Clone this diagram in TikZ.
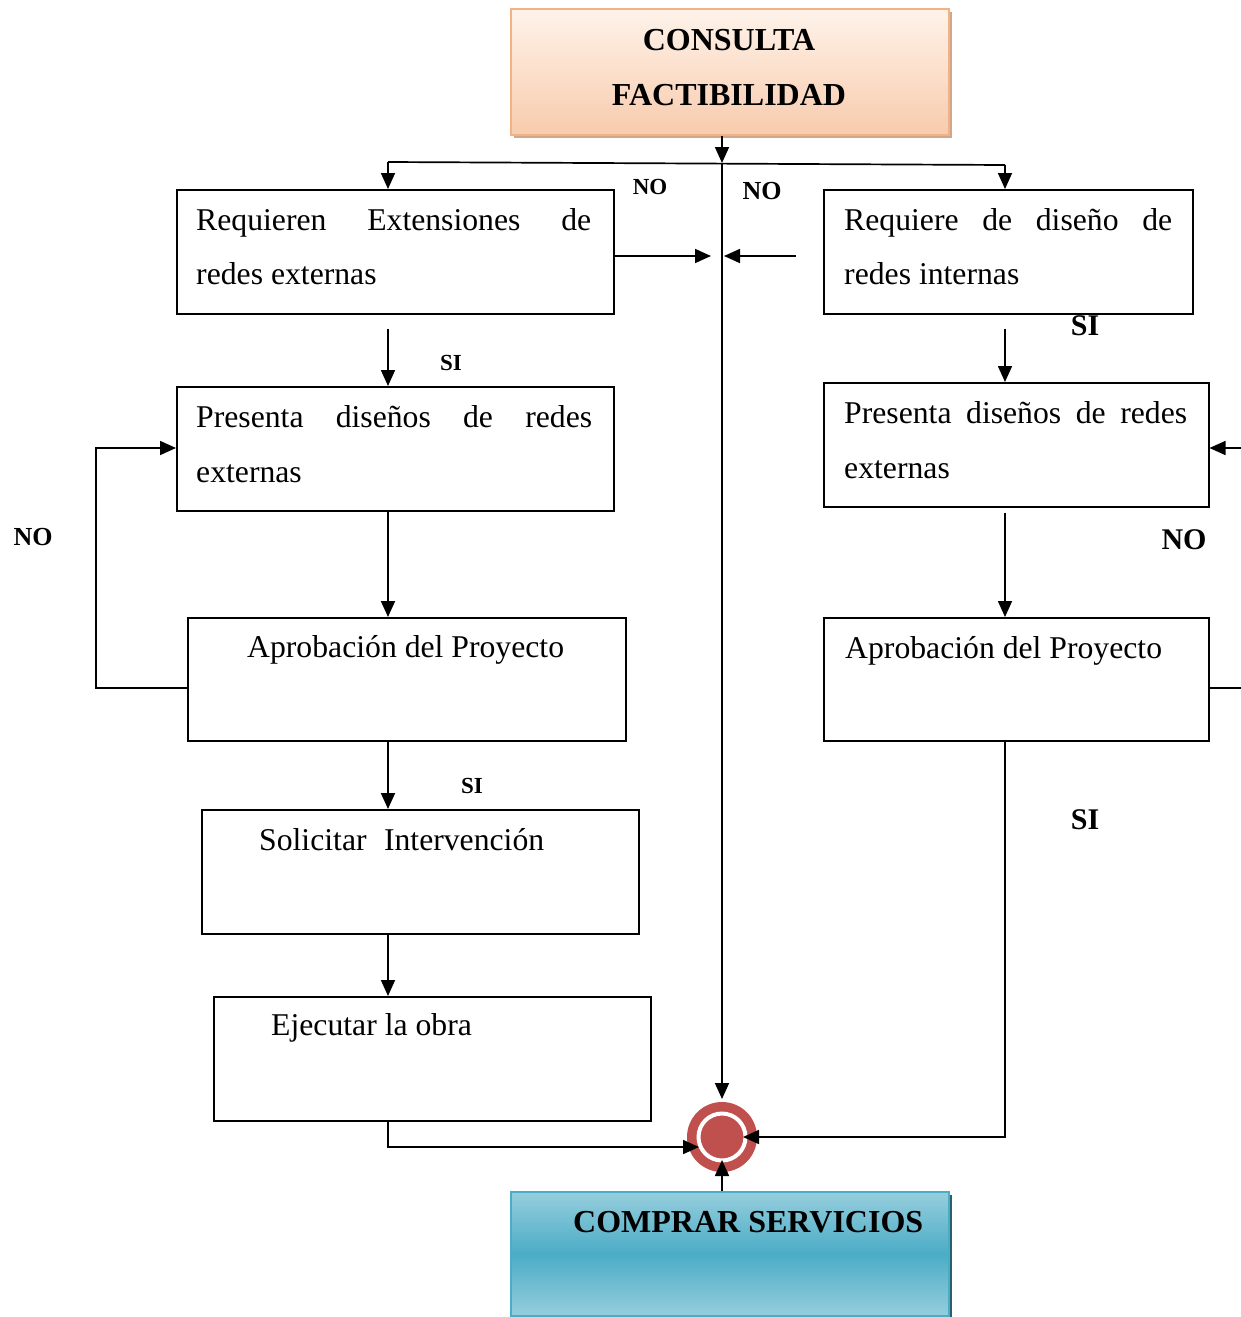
\documentclass[tikz,border=0pt]{standalone}
\usepackage{fontspec}
\setmainfont{Liberation Serif}
\usetikzlibrary{arrows.meta}
\definecolor{peachB}{HTML}{F4B183}
\definecolor{peachF}{HTML}{F8CBAD}
\definecolor{peachT}{HTML}{FEF3EA}
\definecolor{peachS}{RGB}{205,168,140}
\definecolor{tealB}{HTML}{4BACC6}
\definecolor{tealL}{HTML}{96CEDD}
\definecolor{tealS}{HTML}{2A5F6E}
\definecolor{endred}{HTML}{C0504D}
\newcommand\jline[2]{\makebox[#1pt][s]{#2}}
\begin{document}
\begin{tikzpicture}[x=1pt,y=-1pt,
  box/.style={draw=black, line width=1.5pt, inner sep=0pt, anchor=north west},
  txt/.style={anchor=base west, inner sep=0pt, font=\fontsize{31.7}{54}\selectfont},
  ttl/.style={inner sep=0pt, font=\bfseries\fontsize{32}{40}\selectfont},
  lab/.style={inner sep=0pt, font=\bfseries\fontsize{#1}{#1}\selectfont},
  ln/.style={line width=1.7pt},
  arr/.style={line width=1.7pt, -{Triangle[length=16pt,width=14pt]}}]
\useasboundingbox (0,0) rectangle (1241,1317);
\fill[white] (0,0) rectangle (1241,1317);

% top box
\fill[peachS] (514,12) rectangle (952,138);
\node[box, draw=peachB, line width=1.5pt, top color=peachT, bottom color=peachF,
      minimum width=438pt, minimum height=126pt] (T) at (510,8) {};
\node[ttl, anchor=base] (T1) at (729,50) {CONSULTA};
\node[ttl, anchor=base] (T2) at (729,105) {FACTIBILIDAD};

% boxes
\node[box, minimum width=437pt, minimum height=124pt] (A) at (176,189) {};
\node[box, minimum width=369pt, minimum height=124pt] (B) at (823,189) {};
\node[box, minimum width=437pt, minimum height=124pt] (C) at (176,386) {};
\node[box, minimum width=385pt, minimum height=124pt] (G) at (823,382) {};
\node[box, minimum width=438pt, minimum height=123pt] (D) at (187,617) {};
\node[box, minimum width=385pt, minimum height=123pt] (H) at (823,617) {};
\node[box, minimum width=437pt, minimum height=124pt] (E) at (201,809) {};
\node[box, minimum width=437pt, minimum height=124pt] (F) at (213,996) {};

% texts
\node[txt] (tA1) at (196,230) {\jline{395}{Requieren Extensiones de}};
\node[txt] (tA2) at (196,284) {redes externas};
\node[txt] (tB1) at (844,230) {\jline{328}{Requiere de diseño de}};
\node[txt] (tB2) at (844,284) {redes internas};
\node[txt] (tC1) at (196,427) {\jline{396}{Presenta diseños de redes}};
\node[txt] (tC2) at (196,482) {externas};
\node[txt] (tG1) at (844,423) {\jline{343}{Presenta diseños de redes}};
\node[txt] (tG2) at (844,478) {externas};
\node[txt] (tD) at (247,657) {Aprobación del Proyecto};
\node[txt] (tH) at (845,658) {Aprobación del Proyecto};
\node[txt] (tE) at (259,850) {\jline{285}{Solicitar Intervención}};
\node[txt] (tF) at (271,1035) {Ejecutar la obra};

% bottom box
\fill[tealS] (514,1195) rectangle (952,1319);
\node[box, draw=tealB, line width=1.8pt, top color=tealL, bottom color=tealL, middle color=tealB,
      minimum width=438pt, minimum height=124pt] (S) at (510,1191) {};
\node[ttl, anchor=base west] (S1) at (573,1232) {COMPRAR SERVICIOS};

% end circle
\node[circle, fill=endred, minimum size=70pt, inner sep=0pt] (End) at (722,1137) {};
\draw[white, line width=4pt] (End.center) circle (23.5);

% coordinates
\coordinate (c0) at (722,163);
\coordinate (cl) at (388,162);
\coordinate (cr) at (1005,165);
\coordinate (ca) at (711,256);
\coordinate (cb) at (796,256);
\coordinate (cbt) at (724,256);
\coordinate (ctop) at (722,1099);
\coordinate (L1) at (96,688);
\coordinate (L2) at (96,448);
\coordinate (R1) at (1241,448);
\coordinate (R2) at (1241,688);
\coordinate (B1) at (388,1147);
\coordinate (B2) at (699,1147);
\coordinate (R3) at (1005,1137);
\coordinate (R4) at (743,1137);
\coordinate (Bt) at (722,1160);

% connectors
\draw[arr] (T.south -| c0) -- (c0);
\draw[ln] (cl) -- (cr);
\draw[arr] (cl) -- (A.north -| cl);
\draw[arr] (cr) -- (B.north -| cr);
\draw[arr] (c0) -- (ctop);
\draw[arr] (A.east |- ca) -- (ca);
\draw[arr] (cb) -- (cbt);
\draw[arr] ([yshift=-14pt]A.south -| cl) -- (C.north -| cl);
\draw[arr] ([yshift=2pt]C.south -| cl) -- (D.north -| cl);
\draw[arr] (L1 -| D.west) -- (L1) -- (L2) -- (L2 -| C.west);
\draw[arr] (D.south -| cl) -- (E.north -| cl);
\draw[arr] (E.south -| cl) -- (F.north -| cl);
\draw[arr] (F.south -| B1) -- (B1) -- (B2);
\draw[arr] ([yshift=-14pt]B.south -| cr) -- (G.north -| cr);
\draw[arr] ([yshift=-5pt]G.south -| cr) -- (H.north -| cr);
\draw[arr] (R1) -- (R1 -| G.east);
\draw[ln] (R2 -| H.east) -- (R2);
\draw[arr] (H.south -| R3) -- (R3) -- (R4);
\draw[arr] (S.north -| End) -- (Bt);

% labels
\node[lab=23] (n1) at (650,187) {NO};
\node[lab=26] (n2) at (762,191) {NO};
\node[lab=23] (s1) at (451,363) {SI};
\node[lab=30] (s2) at (1085,326) {SI};
\node[lab=26] (n3) at (33,537) {NO};
\node[lab=30] (n4) at (1184,540) {NO};
\node[lab=23] (s3) at (472,786) {SI};
\node[lab=30] (s4) at (1085,820) {SI};
\end{tikzpicture}
\end{document}
